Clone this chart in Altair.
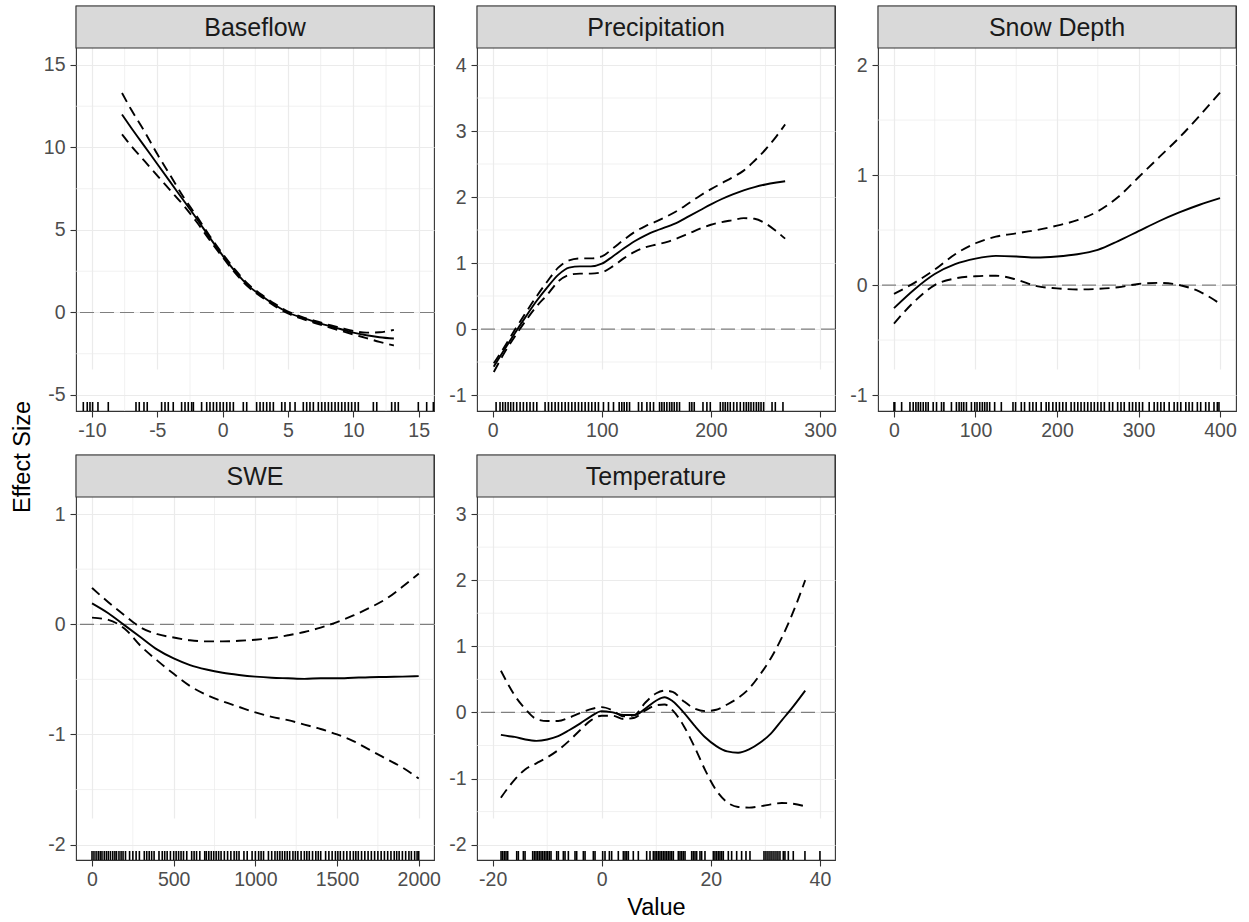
import altair as alt
import pandas as pd

# ---------------- data ----------------
# Baseflow
BASE_X = [-7.7, -7, -6, -5, -4, -3, -2, -1, 0, 1, 2, 3, 4, 5, 6, 7, 8, 9, 10, 11, 12, 13.1]
BASE_FIT = [12.0, 11.2, 10.1, 9.0, 7.9, 6.8, 5.7, 4.55, 3.45, 2.45, 1.6, 1.0, 0.45, 0.0,
            -0.3, -0.55, -0.78, -1.0, -1.22, -1.38, -1.5, -1.58]
BASE_UP = [13.3, 12.3, 11.0, 9.6, 8.3, 7.0, 5.85, 4.65, 3.55, 2.55, 1.68, 1.07, 0.52, 0.06,
           -0.25, -0.5, -0.72, -0.92, -1.12, -1.22, -1.2, -1.05]
BASE_LO = [10.8, 10.1, 9.2, 8.3, 7.4, 6.5, 5.5, 4.4, 3.35, 2.35, 1.52, 0.93, 0.38, -0.06,
           -0.36, -0.62, -0.86, -1.1, -1.33, -1.55, -1.78, -2.0]
BASE_RUG = [-10.66, -10.36, -10.15, -9.95, -9.54, -8.75, -6.63, -6.38, -6.02, -5.77, -4.67,
            -4.41, -4.16, -3.78, -3.14, -2.88, -2.63, -2.37, -2.24, -1.61, -1.22, -0.97,
            -0.71, -0.46, -0.20, 0.05, 0.31, 0.56, 0.82, 1.58, 1.84, 2.60, 2.86, 3.11, 3.37,
            3.62, 3.88, 4.52, 4.77, 5.15, 5.54, 6.17, 6.43, 6.68, 6.94, 7.32, 7.58, 7.83,
            8.09, 8.34, 8.60, 8.85, 9.11, 9.36, 9.62, 9.87, 10.13, 10.38, 11.53, 11.79,
            12.93, 13.19, 13.44, 14.97, 15.61, 16.12]

# Precipitation
PREC_X = [1, 10, 20, 30, 40, 50, 60, 70, 80, 90, 100, 110, 120, 130, 140, 150, 160, 170,
          180, 190, 200, 210, 220, 230, 240, 250, 260, 268]
PREC_FIT = [-0.57, -0.33, -0.07, 0.18, 0.42, 0.63, 0.82, 0.93, 0.95, 0.95, 0.99, 1.1, 1.22,
            1.33, 1.42, 1.49, 1.55, 1.62, 1.71, 1.8, 1.89, 1.97, 2.04, 2.1, 2.15, 2.19,
            2.22, 2.24]
PREC_UP = [-0.52, -0.29, -0.02, 0.24, 0.49, 0.72, 0.93, 1.04, 1.07, 1.07, 1.1, 1.22, 1.35,
           1.47, 1.56, 1.63, 1.71, 1.8, 1.91, 2.02, 2.12, 2.21, 2.3, 2.4, 2.55, 2.72, 2.92,
           3.1]
PREC_LO = [-0.65, -0.38, -0.12, 0.12, 0.34, 0.52, 0.72, 0.82, 0.84, 0.84, 0.86, 0.95, 1.07,
           1.17, 1.24, 1.28, 1.32, 1.38, 1.45, 1.52, 1.58, 1.62, 1.65, 1.68, 1.67, 1.6,
           1.48, 1.37]
PREC_RUG = [3.1, 6.7, 9.2, 11.6, 14.1, 16.5, 19.0, 22.0, 25.1, 28.1, 31.2, 34.2, 37.3, 40.4,
            48.0, 51.1, 54.1, 57.2, 60.2, 63.3, 66.4, 69.4, 72.5, 75.5, 78.6, 81.6, 84.7,
            87.8, 90.8, 93.9, 96.9, 101.5, 106.1, 110.7, 115.9, 118.3, 120.5, 122.9, 125.4,
            133.6, 136.7, 141.3, 144.3, 147.4, 152.9, 155.0, 157.2, 159.6, 162.1, 164.2,
            166.4, 168.8, 171.2, 180.4, 182.5, 184.7, 192.7, 196.3, 199.4, 208.6, 211.0,
            213.1, 215.3, 217.7, 220.8, 223.8, 226.9, 230.0, 232.4, 234.5, 236.7, 239.1,
            241.6, 243.7, 245.9, 248.3, 256.0, 259.0, 266.0]

# Snow Depth
SNOW_X = [0, 25, 50, 75, 100, 125, 150, 175, 200, 225, 250, 275, 300, 325, 350, 375, 400]
SNOW_FIT = [-0.21, -0.04, 0.1, 0.19, 0.24, 0.265, 0.26, 0.25, 0.26, 0.28, 0.32, 0.4, 0.49,
            0.58, 0.66, 0.73, 0.79]
SNOW_UP = [-0.08, 0.02, 0.14, 0.28, 0.38, 0.44, 0.47, 0.5, 0.54, 0.59, 0.67, 0.8, 0.98,
           1.16, 1.34, 1.54, 1.75]
SNOW_LO = [-0.35, -0.15, 0.0, 0.06, 0.08, 0.085, 0.05, -0.01, -0.03, -0.04, -0.035, -0.02,
           0.01, 0.02, 0.0, -0.06, -0.17]
SNOW_RUG = [0.0, 1.0, 9.4, 19.6, 23.6, 26.9, 29.8, 32.6, 35.9, 39.1, 42.0, 48.1, 52.2, 58.3,
            61.2, 70.5, 76.6, 79.9, 82.8, 85.6, 88.9, 95.0, 99.1, 101.9, 105.2, 108.4, 111.3,
            114.2, 117.4, 123.5, 131.7, 146.0, 149.2, 156.2, 160.2, 166.3, 170.4, 174.5,
            180.6, 186.7, 190.0, 194.9, 199.0, 203.0, 207.1, 211.2, 217.3, 221.4, 225.5,
            229.5, 233.6, 237.7, 241.8, 245.8, 249.9, 254.0, 258.1, 264.2, 268.3, 274.4,
            278.5, 282.5, 288.7, 292.7, 296.8, 300.9, 305.0, 313.1, 319.2, 323.3, 327.4,
            331.5, 337.6, 343.7, 347.8, 351.9, 358.0, 362.0, 366.1, 372.2, 376.3, 382.4,
            386.5, 392.6, 396.7, 398.7]

# SWE
SWE_X = [0, 100, 200, 300, 400, 500, 600, 700, 800, 900, 1000, 1100, 1200, 1300, 1400, 1500,
         1600, 1700, 1800, 1900, 2000]
SWE_FIT = [0.19, 0.1, -0.01, -0.12, -0.23, -0.31, -0.37, -0.41, -0.44, -0.46, -0.475, -0.485,
           -0.49, -0.495, -0.49, -0.49, -0.485, -0.48, -0.478, -0.475, -0.47]
SWE_UP = [0.33, 0.2, 0.08, -0.03, -0.09, -0.12, -0.145, -0.155, -0.155, -0.15, -0.14, -0.125,
          -0.1, -0.07, -0.03, 0.02, 0.08, 0.15, 0.23, 0.34, 0.46]
SWE_LO = [0.06, 0.04, -0.04, -0.2, -0.33, -0.45, -0.56, -0.64, -0.7, -0.75, -0.8, -0.84,
          -0.87, -0.91, -0.95, -1.0, -1.06, -1.14, -1.22, -1.3, -1.4]
SWE_RUG = [0, 12, 25, 38, 50, 61, 75, 88, 100, 113, 127, 140, 150, 165, 178, 190, 205, 230,
           250, 270, 290, 320, 335, 350, 365, 380, 410, 430, 445, 460, 480, 500, 515, 530,
           545, 560, 580, 610, 625, 640, 660, 690, 700, 715, 730, 745, 760, 775, 790, 810,
           830, 850, 870, 885, 900, 930, 950, 980, 1000, 1020, 1035, 1050, 1080, 1100, 1120,
           1135, 1150, 1165, 1180, 1195, 1210, 1230, 1245, 1260, 1280, 1300, 1315, 1330,
           1350, 1370, 1385, 1400, 1430, 1450, 1470, 1490, 1505, 1520, 1540, 1560, 1580,
           1600, 1615, 1630, 1650, 1670, 1690, 1710, 1730, 1750, 1770, 1790, 1810, 1830,
           1850, 1865, 1880, 1900, 1920, 1940, 1955, 1975, 1990, 2000]

# Temperature
TEMP_X = [-18.5, -17, -16, -14, -12, -10, -8, -6, -4, -2, 0, 2, 4, 6, 8, 10, 11.5, 13, 15,
          17, 19, 21, 23, 25, 27, 29, 31, 33, 35, 37.3]
TEMP_FIT = [-0.34, -0.36, -0.37, -0.41, -0.43, -0.41, -0.36, -0.27, -0.17, -0.06, 0.02, 0.0,
            -0.04, -0.04, 0.06, 0.18, 0.23, 0.17, 0.0, -0.2, -0.38, -0.51, -0.59, -0.61,
            -0.56, -0.46, -0.32, -0.12, 0.08, 0.33]
TEMP_UP = [0.63, 0.4, 0.26, 0.05, -0.1, -0.13, -0.13, -0.08, -0.01, 0.05, 0.08, 0.03, -0.06,
           -0.04, 0.15, 0.29, 0.33, 0.31, 0.17, 0.06, 0.02, 0.04, 0.12, 0.22, 0.36, 0.57,
           0.82, 1.13, 1.5, 2.0]
TEMP_LO = [-1.29, -1.12, -1.02, -0.86, -0.77, -0.68, -0.57, -0.43, -0.27, -0.12, -0.05,
           -0.05, -0.1, -0.08, 0.03, 0.11, 0.12, 0.03, -0.2, -0.52, -0.88, -1.18, -1.36,
           -1.43, -1.44, -1.42, -1.39, -1.37, -1.38, -1.42]
TEMP_RUG = [-18.47, -18.17, -17.86, -17.56, -17.25, -15.60, -15.30, -14.38, -14.07, -12.67,
            -12.36, -12.06, -11.75, -11.45, -11.14, -10.84, -10.53, -10.22, -9.92, -9.61,
            -9.31, -8.27, -7.96, -7.05, -6.74, -6.13, -4.91, -4.60, -3.38, -3.07, -1.55,
            -1.24, 0.16, 0.59, 1.39, 1.81, 3.03, 3.95, 4.26, 4.56, 4.87, 5.78, 6.70, 8.23,
            8.84, 9.45, 9.76, 10.06, 10.37, 10.67, 10.98, 11.29, 11.59, 11.90, 12.20, 12.51,
            12.81, 13.12, 14.03, 14.34, 14.65, 14.95, 15.26, 16.48, 16.78, 17.09, 17.40,
            18.00, 18.31, 18.92, 20.45, 20.75, 21.06, 21.37, 21.67, 21.98, 22.28, 23.20,
            23.81, 24.73, 25.64, 26.44, 27.17, 29.74, 30.10, 30.47, 30.84, 31.20, 31.57,
            31.94, 32.30, 32.67, 33.28, 33.58, 34.20, 35.11, 37.25, 40.0]

# axis breaks (major / minor) and panel limits
BASE_XT, BASE_XM = [-10, -5, 0, 5, 10, 15], [-7.5, -2.5, 2.5, 7.5, 12.5]
BASE_YT, BASE_YM = [-5, 0, 5, 10, 15], [-2.5, 2.5, 7.5, 12.5]
PREC_XT, PREC_XM = [0, 100, 200, 300], [50, 150, 250]
PREC_YT, PREC_YM = [-1, 0, 1, 2, 3, 4], [-0.5, 0.5, 1.5, 2.5, 3.5]
SNOW_XT, SNOW_XM = [0, 100, 200, 300, 400], [50, 150, 250, 350]
SNOW_YT, SNOW_YM = [-1, 0, 1, 2], [-0.5, 0.5, 1.5]
SWE_XT, SWE_XM = [0, 500, 1000, 1500, 2000], [250, 750, 1250, 1750]
SWE_YT, SWE_YM = [-2, -1, 0, 1], [-1.5, -0.5, 0.5]
TEMP_XT, TEMP_XM = [-20, 0, 20, 40], [-10, 10, 30]
TEMP_YT, TEMP_YM = [-2, -1, 0, 1, 2, 3], [-1.5, -0.5, 0.5, 1.5, 2.5]

BASE_XLIM, BASE_YLIM = [-11.22, 16.17], [-5.97, 16.03]
PREC_XLIM, PREC_YLIM = [-14.4, 313.7], [-1.242, 4.258]
SNOW_XLIM, SNOW_YLIM = [-19.6, 419.6], [-1.145, 2.155]
SWE_XLIM, SWE_YLIM = [-98, 2093.5], [-2.139, 1.155]
TEMP_XLIM, TEMP_YLIM = [-22.88, 42.76], [-2.232, 3.258]

# ---------------- layout / style ----------------
W, H, HEAD = 358, 405, 42
LBL = 19.5
GRID = "#ebebeb"


def panel(name, xs, fit, up, lo, rug, xt, xm, yt, ym, xlim, ylim):
    xaxis = alt.Axis(values=xt, title=None, grid=True, gridColor=GRID, gridWidth=1.2,
                     domain=False, tickColor="#333333", tickSize=6, tickWidth=1.1,
                     labelColor="#4d4d4d", labelFontSize=LBL, labelPadding=4,
                     labelFlush=False, labelOverlap=False,
                     labelExpr="toString(datum.value)")
    yaxis = alt.Axis(values=yt, title=None, grid=True, gridColor=GRID, gridWidth=1.2,
                     domain=False, tickColor="#333333", tickSize=6, tickWidth=1.1,
                     labelColor="#4d4d4d", labelFontSize=LBL, labelPadding=5,
                     labelOverlap=False, minExtent=34, maxExtent=34,
                     labelExpr="toString(datum.value)")
    X = alt.X("x:Q", scale=alt.Scale(domain=xlim, nice=False, zero=False), axis=xaxis)
    Y = alt.Y("y:Q", scale=alt.Scale(domain=ylim, nice=False, zero=False, range=[H, HEAD]),
              axis=yaxis)

    minor_x = alt.Chart(pd.DataFrame({"x": xm})).mark_rule(
        color=GRID, strokeWidth=0.7).encode(x=X)
    minor_y = alt.Chart(pd.DataFrame({"y": ym})).mark_rule(
        color=GRID, strokeWidth=0.7).encode(y=Y)
    zero = alt.Chart(pd.DataFrame({"y": [0]})).mark_rule(
        color="#7f7f7f", strokeWidth=1.2, strokeDash=[14, 6]).encode(y=Y)
    n = len(xs)
    ci_df = pd.DataFrame({"x": xs + xs, "y": up + lo, "s": ["upper"] * n + ["lower"] * n})
    ci = alt.Chart(ci_df).mark_line(color="black", strokeWidth=1.9, strokeDash=[10, 6],
                                    interpolate="monotone").encode(x=X, y=Y, detail="s:N")
    fit_line = alt.Chart(pd.DataFrame({"x": xs, "y": fit})).mark_line(
        color="black", strokeWidth=1.9, interpolate="monotone").encode(x=X, y=Y)
    rug_m = alt.Chart(pd.DataFrame({"x": rug})).mark_rule(
        color="black", strokeWidth=1.6).encode(x=X, y=alt.value(H - 9), y2=alt.value(H))
    head_df = pd.DataFrame({"t": [name]})
    head_rect = alt.Chart(head_df).mark_rect(
        fill="#d9d9d9", stroke="#333333", strokeWidth=1.1).encode(
        x=alt.value(0), x2=alt.value(W), y=alt.value(0), y2=alt.value(HEAD))
    head_text = alt.Chart(head_df).mark_text(
        fontSize=25, color="#1a1a1a", align="center", baseline="middle").encode(
        text="t:N", x=alt.value(W / 2), y=alt.value(HEAD / 2 + 1))
    return alt.layer(minor_x, minor_y, zero, ci, fit_line, rug_m, head_rect, head_text
                     ).properties(width=W, height=H)


panels = [
    panel("Baseflow", BASE_X, BASE_FIT, BASE_UP, BASE_LO, BASE_RUG, BASE_XT, BASE_XM,
          BASE_YT, BASE_YM, BASE_XLIM, BASE_YLIM),
    panel("Precipitation", PREC_X, PREC_FIT, PREC_UP, PREC_LO, PREC_RUG, PREC_XT, PREC_XM,
          PREC_YT, PREC_YM, PREC_XLIM, PREC_YLIM),
    panel("Snow Depth", SNOW_X, SNOW_FIT, SNOW_UP, SNOW_LO, SNOW_RUG, SNOW_XT, SNOW_XM,
          SNOW_YT, SNOW_YM, SNOW_XLIM, SNOW_YLIM),
    panel("SWE", SWE_X, SWE_FIT, SWE_UP, SWE_LO, SWE_RUG, SWE_XT, SWE_XM,
          SWE_YT, SWE_YM, SWE_XLIM, SWE_YLIM),
    panel("Temperature", TEMP_X, TEMP_FIT, TEMP_UP, TEMP_LO, TEMP_RUG, TEMP_XT, TEMP_XM,
          TEMP_YT, TEMP_YM, TEMP_XLIM, TEMP_YLIM),
]

grid = alt.concat(*panels, columns=3, spacing={"row": 44, "column": 43}, bounds="flush")

ylab = alt.Chart(pd.DataFrame({"t": ["Effect Size"]})).mark_text(
    angle=270, fontSize=23.5, color="black", align="center", baseline="middle").encode(
    text="t:N", x=alt.value(17), y=alt.value(451)).properties(
    width=34, height=853, view=alt.ViewConfig(stroke="transparent"))

xlab = alt.Chart(pd.DataFrame({"t": ["Value"]})).mark_text(
    fontSize=23.5, color="black", align="center", baseline="middle").encode(
    text="t:N", x=alt.value(580.5), y=alt.value(17)).properties(
    width=1160, height=26, view=alt.ViewConfig(stroke="transparent"))

chart = alt.hconcat(ylab, alt.vconcat(grid, xlab, spacing=0), spacing=0).properties(
    padding={"left": 5, "top": 4, "right": 5, "bottom": 2},
    background="white",
).configure(font="Liberation Sans").configure_view(stroke="#333333", strokeWidth=1.1)

chart.save("out.html", embed_options={"renderer": "svg", "actions": False})
